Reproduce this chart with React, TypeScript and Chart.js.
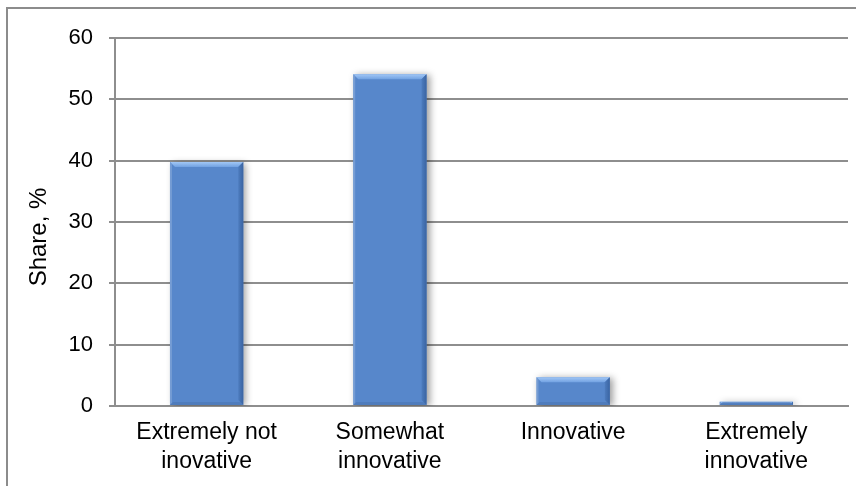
import React, { useEffect, useRef } from 'react';
import { Chart, registerables } from 'chart.js';

Chart.register(...registerables);

const categories: string[][] = [
  ['Extremely not', 'inovative'],
  ['Somewhat', 'innovative'],
  ['Innovative'],
  ['Extremely', 'innovative'],
];
const shareValues: number[] = [39.8, 54.1, 4.7, 0.7];
const yTickValues: number[] = [0, 10, 20, 30, 40, 50, 60];
const yTitle = 'Share, %';

const FONT = '"Liberation Sans", Arial, Helvetica, sans-serif';
const GRID = '#8e8e8e';

const bevelPlugin = {
  id: 'bevel',
  beforeDatasetDraw(chart: any) {
    const ctx = chart.ctx;
    ctx.save();
    ctx.shadowColor = 'rgba(0,0,0,0.38)';
    ctx.shadowBlur = 7;
    ctx.shadowOffsetX = 3;
    ctx.shadowOffsetY = 1;
  },
  afterDatasetDraw(chart: any, args: any) {
    const ctx = chart.ctx;
    ctx.restore();
    args.meta.data.forEach((el: any) => {
      const p = el.getProps(['x', 'y', 'base', 'width'], true);
      const l = p.x - p.width / 2;
      const r = p.x + p.width / 2;
      const t = Math.min(p.y, p.base);
      const b = Math.max(p.y, p.base);
      const bv = Math.min(5, (b - t) / 2);
      ctx.save();
      // top highlight
      const gTop = ctx.createLinearGradient(0, t, 0, t + bv);
      gTop.addColorStop(0, '#a3c8f6');
      gTop.addColorStop(1, '#72a2e2');
      ctx.fillStyle = gTop;
      ctx.beginPath();
      ctx.moveTo(l, t);
      ctx.lineTo(r, t);
      ctx.lineTo(r - bv, t + bv);
      ctx.lineTo(l + bv, t + bv);
      ctx.closePath();
      ctx.fill();
      // left edge
      ctx.fillStyle = 'rgba(130,165,215,0.7)';
      ctx.beginPath();
      ctx.moveTo(l, t);
      ctx.lineTo(l + 2, t + 2);
      ctx.lineTo(l + 2, b - 2);
      ctx.lineTo(l, b);
      ctx.closePath();
      ctx.fill();
      // right edge
      const gR = ctx.createLinearGradient(r - bv, 0, r, 0);
      gR.addColorStop(0, '#4d7cbe');
      gR.addColorStop(1, '#3a64a2');
      ctx.fillStyle = gR;
      ctx.beginPath();
      ctx.moveTo(r, t);
      ctx.lineTo(r, b);
      ctx.lineTo(r - bv, b - bv);
      ctx.lineTo(r - bv, t + bv);
      ctx.closePath();
      ctx.fill();
      // bottom edge (subtle)
      ctx.fillStyle = 'rgba(70,110,170,0.45)';
      ctx.beginPath();
      ctx.moveTo(l, b);
      ctx.lineTo(r, b);
      ctx.lineTo(r - 3, b - 3);
      ctx.lineTo(l + 3, b - 3);
      ctx.closePath();
      ctx.fill();
      ctx.restore();
    });
  },
};

const titlePlugin = {
  id: 'yTitleFixed',
  afterDraw(chart: any) {
    const ctx = chart.ctx;
    ctx.save();
    ctx.translate(39, 237);
    ctx.rotate(-Math.PI / 2);
    ctx.font = `24px ${FONT}`;
    ctx.fillStyle = '#000';
    ctx.textAlign = 'center';
    ctx.textBaseline = 'middle';
    ctx.fillText(yTitle, 0, 0);
    ctx.restore();
  },
};

export default function App() {
  const ref = useRef<HTMLCanvasElement | null>(null);

  useEffect(() => {
    if (!ref.current) return;
    const chart = new Chart(ref.current, {
      type: 'bar',
      data: {
        labels: categories,
        datasets: [
          {
            data: shareValues,
            backgroundColor: '#5787cb',
            borderWidth: 0,
            barPercentage: 0.4,
            categoryPercentage: 1,
          },
        ],
      },
      options: {
        responsive: false,
        animation: false,
        devicePixelRatio: 1,
        layout: { padding: { top: 38, right: 8, left: 0, bottom: 0 } },
        plugins: {
          legend: { display: false },
          tooltip: { enabled: false },
          title: { display: false },
        },
        scales: {
          x: {
            grid: { display: false, drawTicks: false },
            border: { display: true, color: GRID, width: 2 },
            ticks: {
              color: '#000',
              font: { family: FONT, size: 23, lineHeight: 1.26 },
              padding: 12,
              maxRotation: 0,
              autoSkip: false,
            },
            afterFit(scale: any) {
              scale.height = 80;
            },
          },
          y: {
            min: 0,
            max: 60,
            afterBuildTicks(scale: any) {
              scale.ticks = yTickValues.map((v) => ({ value: v }));
            },
            grid: { color: GRID, lineWidth: 2, tickLength: 6, drawTicks: true },
            border: { display: true, color: GRID, width: 2 },
            ticks: {
              color: '#000',
              font: { family: FONT, size: 22 },
              padding: 16,
            },
            afterFit(scale: any) {
              scale.width = 115;
            },
          },
        },
      },
      plugins: [bevelPlugin, titlePlugin],
    });
    return () => chart.destroy();
  }, []);

  return (
    <div
      style={{
        position: 'fixed',
        left: 0,
        top: 0,
        width: 856,
        height: 486,
        overflow: 'hidden',
        background: '#fff',
      }}
    >
      <div
        style={{
          position: 'absolute',
          left: 6,
          top: 7,
          width: 900,
          height: 600,
          border: '2px solid #8c8c8c',
          boxSizing: 'border-box',
        }}
      />
      <canvas
        ref={ref}
        width={856}
        height={486}
        style={{ position: 'absolute', left: 0, top: 0, width: 856, height: 486 }}
      />
    </div>
  );
}
